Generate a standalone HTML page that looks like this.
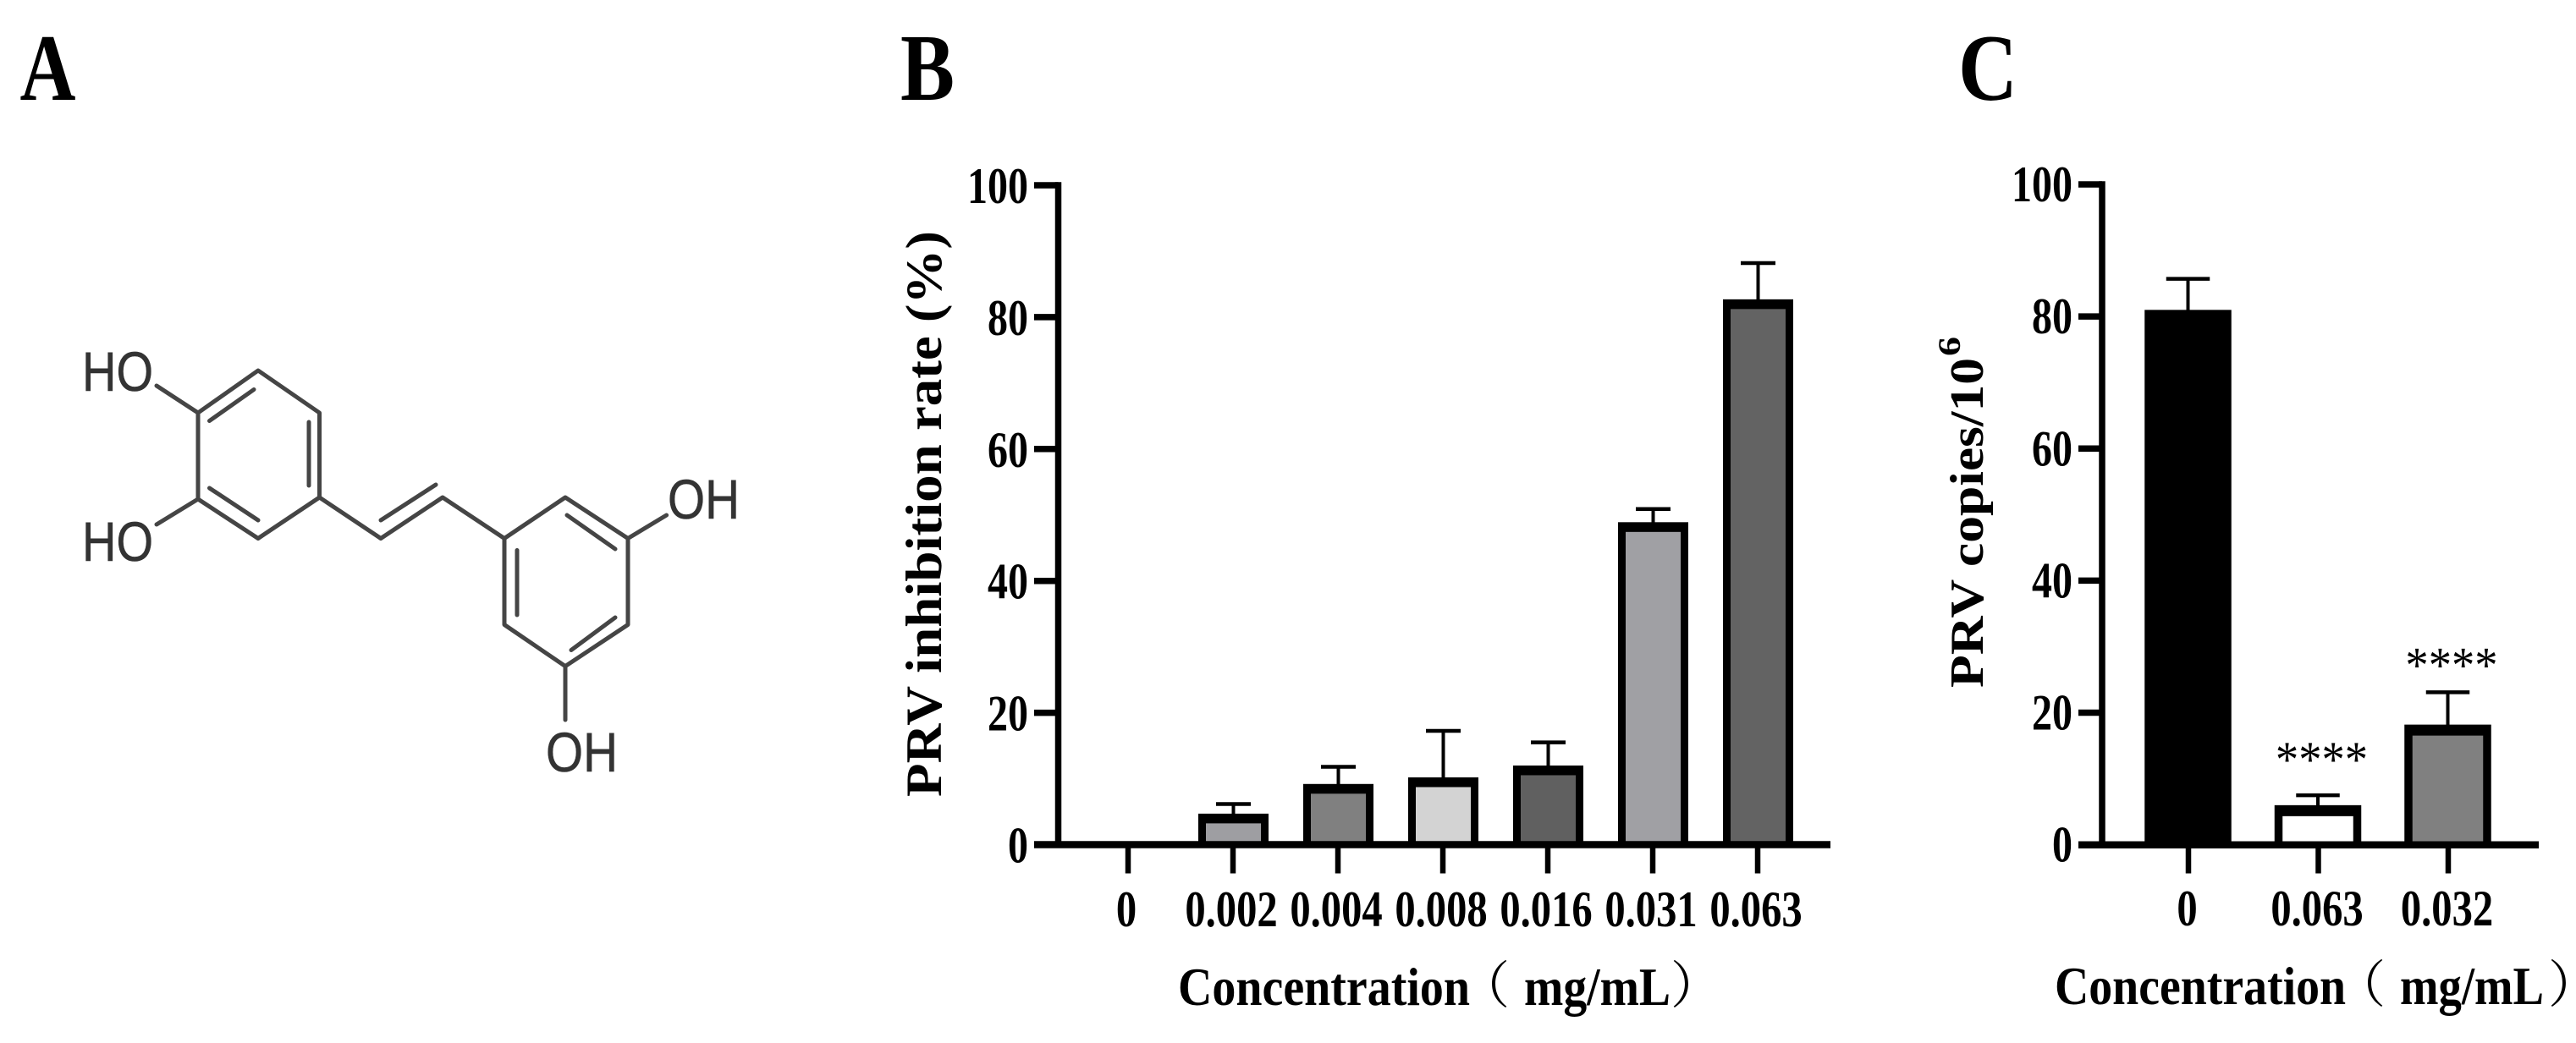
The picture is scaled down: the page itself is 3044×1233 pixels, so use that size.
<!DOCTYPE html>
<html lang="en">
<head>
<meta charset="utf-8">
<title>PRV inhibition figure</title>
<style>
  html, body { margin: 0; padding: 0; background: #fff; }
  svg { display: block; }
  text { font-family: "Liberation Serif", "Noto Serif CJK SC", serif; font-weight: bold; fill: #000; }
  .chem text { font-family: "Liberation Sans", sans-serif; font-weight: normal; fill: #333333; stroke: #333333; stroke-width: 0.6px; }
  .cjk { font-family: "Noto Serif CJK SC", "Liberation Serif", serif; font-weight: normal; }
</style>
</head>
<body>
<svg id="figure" xmlns="http://www.w3.org/2000/svg" width="3044" height="1233" viewBox="0 0 3044 1233">
  <rect width="3044" height="1233" fill="#ffffff"/>

  <text x="23.5" y="118" font-size="112" textLength="66" lengthAdjust="spacingAndGlyphs">A</text>
  <text x="1064" y="118" font-size="112" textLength="64" lengthAdjust="spacingAndGlyphs">B</text>
  <text x="2314" y="118" font-size="112" textLength="70" lengthAdjust="spacingAndGlyphs">C</text>

  <g class="chem">
    <path fill="none" stroke="#454545" stroke-width="5" stroke-linejoin="round" stroke-linecap="round"
      d="M305 438 L377.5 488 L377.5 588 L305 636.5 L234 590 L234 488 Z
         M247.5 497.5 L300 460.5 M365 499 L365 574 M247.5 577 L305 615
         M234 488 L185 456 M234 590 L185 620
         M377.5 588 L450 636.5 L523 588 L596 636.5 M450 615 L515 573
         M596 636.5 L668 588 L742 636.5 L742 738.5 L668 787.6 L596 738.5 Z
         M611 650.5 L611 727 M670 609 L727 649 M675 768.5 L727 730
         M742 636.5 L787.6 609 M668 787.6 L668 851"/>
    <text x="97" y="462" font-size="66" textLength="84" lengthAdjust="spacingAndGlyphs">HO</text>
    <text x="97" y="663" font-size="66" textLength="84" lengthAdjust="spacingAndGlyphs">HO</text>
    <text x="789" y="613" font-size="66" textLength="85" lengthAdjust="spacingAndGlyphs">OH</text>
    <text x="645" y="912" font-size="66" textLength="85" lengthAdjust="spacingAndGlyphs">OH</text>
  </g>

  <g id="chart-b">
    <text transform="translate(1112,942) rotate(-90)" font-size="60" textLength="669" lengthAdjust="spacingAndGlyphs">PRV inhibition rate (%)</text>
    <text y="1188" font-size="64"><tspan x="1392" textLength="345" lengthAdjust="spacingAndGlyphs">Concentration</tspan></text>
    <text class="cjk" x="1724" y="1186" font-size="60">（</text>
    <text x="1801" y="1188" font-size="64" textLength="173" lengthAdjust="spacingAndGlyphs">mg/mL</text>
    <text class="cjk" x="1974" y="1186" font-size="60">）</text>
  </g>

  <g id="chart-c">
    <text transform="translate(2343,813) rotate(-90)" font-size="56" textLength="390" lengthAdjust="spacingAndGlyphs">PRV copies/10</text>
    <text transform="translate(2316,421) rotate(-90)" font-size="37" textLength="23" lengthAdjust="spacingAndGlyphs">6</text>
    <text y="1187" font-size="64"><tspan x="2428" textLength="344" lengthAdjust="spacingAndGlyphs">Concentration</tspan></text>
    <text class="cjk" x="2759" y="1185" font-size="60">（</text>
    <text x="2836" y="1187" font-size="64" textLength="170" lengthAdjust="spacingAndGlyphs">mg/mL</text>
    <text class="cjk" x="3011" y="1185" font-size="60">）</text>
  </g>
</svg>

<script>
// Shared y-axis ticks
const yTickLabels = [0, 20, 40, 60, 80, 100];

// Panel B data
const categoriesB = ["0", "0.002", "0.004", "0.008", "0.016", "0.031", "0.063"];
const valuesB = [0, 4.7, 9.2, 10.2, 12.0, 48.9, 82.7];
const errorsB = [0, 1.45, 2.6, 7.05, 3.5, 2.0, 5.5];
const fillsB = ["#9e9ea2", "#9e9ea2", "#808080", "#d3d3d3", "#606060", "#a0a0a4", "#636363"];

// Panel C data
const categoriesC = ["0", "0.063", "0.032"];
const valuesC = [81.0, 6.0, 18.2];
const errorsC = [4.7, 1.5, 4.9];
const fillsC = ["#000000", "#ffffff", "#808080"];
const significanceC = ["", "****", "****"];
const significanceGapsC = [0, 6.4, 5.1];

const SVG_NS = "http://www.w3.org/2000/svg";

function make(tag, attrs, parent, content) {
  const node = document.createElementNS(SVG_NS, tag);
  for (const key in attrs) node.setAttribute(key, attrs[key]);
  if (content !== undefined) node.textContent = content;
  parent.appendChild(node);
  return node;
}

function drawChart(parent, opts, categories, values, errors, fills) {
  const yScale = v => opts.base - v * (opts.base - opts.top) / 100;
  const xScale = i => opts.x0 + i * opts.step;

  categories.forEach((cat, i) => {
    const cx = xScale(i) + opts.barShift;
    const top = yScale(values[i]);
    const errTop = yScale(values[i] + errors[i]);

    const stem = make("line", { x1: cx, x2: cx, y1: errTop, y2: top + 2, stroke: "#000", "stroke-width": 4 }, parent);
    
    

    const cap = make("line", { x1: cx - opts.capW / 2, x2: cx + opts.capW / 2, y1: errTop, y2: errTop, stroke: "#000", "stroke-width": 4.5 }, parent);
    
    

    const outer = make("rect", { x: cx - opts.barW / 2, y: top, width: opts.barW, height: Math.max(0, opts.base - top), fill: "#000" }, parent);
    
    

    const innerTop = top + opts.borderTop;
    const inner = make("rect", { x: cx - opts.barW / 2 + opts.borderSide, y: innerTop, width: opts.barW - 2 * opts.borderSide, height: Math.max(0, opts.base - innerTop), fill: fills[i] }, parent);
    
    

    const tick = make("line", { x1: xScale(i), x2: xScale(i), y1: opts.base, y2: 1032.5, stroke: "#000", "stroke-width": 6.5 }, parent);
    
    

    const tx = xScale(i) + opts.labelShift;
    const label = make("text", { transform: "translate(" + tx + "," + opts.xLabelY + ") scale(0.81,1)", "text-anchor": "middle", "font-size": 60 }, parent, cat);
    
    
  });

  const yAxis = make("line", { x1: opts.axisX, x2: opts.axisX, y1: opts.top - 3.75, y2: opts.base, stroke: "#000", "stroke-width": 7.5 }, parent);
  
  

  const xAxis = make("line", { x1: opts.tickStart, x2: opts.axisEnd, y1: opts.base, y2: opts.base, stroke: "#000", "stroke-width": 8.5 }, parent);
  
  

  yTickLabels.forEach(v => {
    const y = yScale(v);
    const tick = make("line", { x1: opts.tickStart, x2: opts.axisX, y1: y, y2: y, stroke: "#000", "stroke-width": 7.5 }, parent);
    
    

    const label = make("text", { transform: "translate(" + opts.yLabelX + "," + (y + opts.yLabelDy) + ") scale(0.8,1)", "text-anchor": "end", "font-size": 60 }, parent, String(v));
    
    
  });

  return { xScale, yScale };
}

const chartB = document.getElementById("chart-b");
drawChart(chartB, {
  base: 998.5, top: 219, x0: 1333, step: 124, barShift: 0.5, labelShift: -2,
  barW: 83, capW: 41, borderSide: 9, borderTop: 11.5,
  axisX: 1250.5, tickStart: 1222, axisEnd: 2163, yLabelX: 1215, yLabelDy: 21, xLabelY: 1095
}, categoriesB, valuesB, errorsB, fillsB);

const chartC = document.getElementById("chart-c");
const scalesC = drawChart(chartC, {
  base: 998.7, top: 218, x0: 2586, step: 153.5, barShift: -0.5, labelShift: -1.5,
  barW: 102.5, capW: 51.5, borderSide: 9.5, borderTop: 13,
  axisX: 2484, tickStart: 2456, axisEnd: 3000, yLabelX: 2449, yLabelDy: 20, xLabelY: 1094
}, categoriesC, valuesC, errorsC, fillsC);

significanceC.forEach((mark, i) => {
  if (!mark) return;
  const sx = scalesC.xScale(i) + 4;
  const sy = scalesC.yScale(valuesC[i] + errorsC[i] + significanceGapsC[i]) + 28;
  const star = make("text", { transform: "translate(" + sx + "," + sy + ") scale(0.91,1)", "text-anchor": "middle", "font-size": 60, style: "font-weight:normal" }, chartC, mark);
  
  
});
</script>
</body>
</html>
